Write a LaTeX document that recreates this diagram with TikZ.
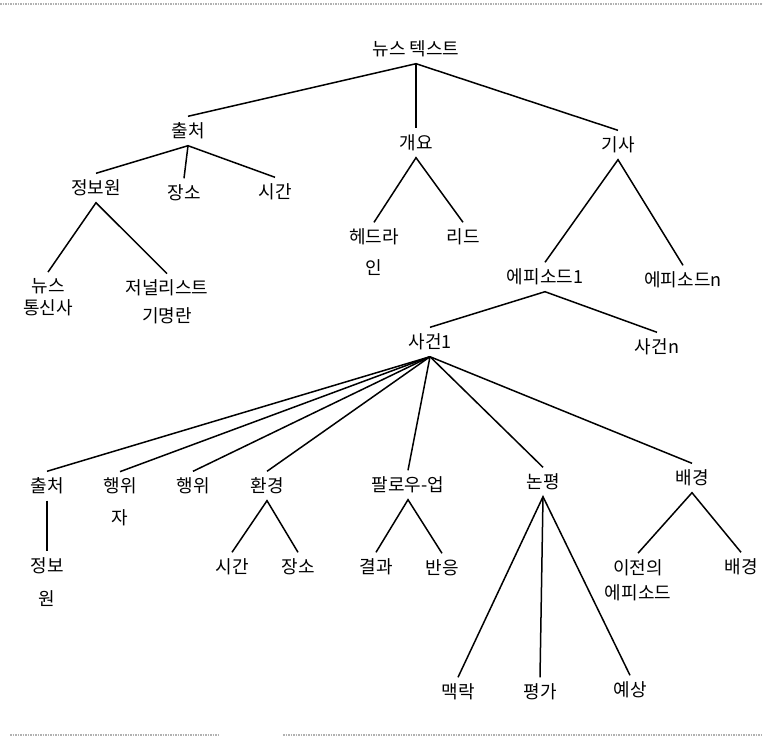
\documentclass[tikz,border=0pt]{standalone}
\usepackage{fontspec}
\setmainfont{Noto Sans CJK KR}
\begin{document}
\begin{tikzpicture}[x=1pt,y=-1pt]
 \tikzstyle{term}=[font=\fontsize{18}{22}\selectfont,inner xsep=1pt,inner ysep=6pt,align=center]
 \tikzstyle{one}=[term,text height=15pt,text depth=2pt]
 \tikzstyle{branch}=[line width=1.5pt]
 \tikzstyle{scan}=[gray!60,densely dotted,line width=1.5pt]
\useasboundingbox (0,0) rectangle (763,737);
\draw[scan] (0,4) -- (763,4);
\draw[scan] (10,735) -- (218,735);
\draw[scan] (283,735) -- (763,735);
\node[one] (root) at (416,49) {뉴스 텍스트};
\node[one] (src) at (188,131) {출처};
\node[one] (summ) at (416,143) {개요};
\node[one] (story) at (618,145) {기사};
\node[one] (info) at (96,188) {정보원};
\node[one] (place) at (184,193) {장소};
\node[one] (time) at (275,192) {시간};
\node[term] (agency) at (48,297) {뉴스\\통신사};
\node[term] (byline) at (167,302) {저널리스트\\[6pt]기명란};
\node[term] (head) at (374,252) {헤드라\\[9pt]인};
\node[one] (lead) at (463,237) {리드};
\node[one] (epi1) at (545,277) {에피소드1};
\node[one] (epin) at (683,280) {에피소드n};
\node[one] (ev1) at (430,342) {사건1};
\node[one] (evn) at (657,347) {사건n};
\node[one] (esrc) at (47,486) {출처};
\node[term] (actor) at (120,502) {행위\\[10pt]자};
\node[one] (act) at (193,486) {행위};
\node[one] (env) at (267,486) {환경};
\node[one] (follow) at (408,485) {팔로우-업};
\node[one] (comm) at (543,482) {논평};
\node[one] (bg) at (692,478) {배경};
\node[term] (sinfo) at (47,582) {정보\\[11pt]원};
\node[one] (etime) at (232,567) {시간};
\node[one] (eplace) at (298,567) {장소};
\node[one] (result) at (376,567) {결과};
\node[one] (react) at (442,568) {반응};
\node[one] (ctx) at (458,692) {맥락};
\node[one] (eval) at (540,692) {평가};
\node[one] (pred) at (630,690) {예상};
\node[term] (prev) at (638,580) {이전의\\[3pt]에피소드};
\node[one] (bgb) at (741,567) {배경};
\draw[branch] (src.north) -- (root.south) -- (story.north);
\draw[branch] (root.south) -- (summ.north);
\draw[branch] (info.north) -- (src.south) -- (time.north);
\draw[branch] (src.south) -- (place.north);
\draw[branch] (agency.north) -- (info.south) -- (byline.north);
\draw[branch] (head.north) -- (summ.south) -- (lead.north);
\draw[branch] (epi1.north) -- (story.south) -- (epin.north);
\draw[branch] (ev1.north) -- (epi1.south) -- (evn.north);
\foreach \k in {esrc,actor,act,env,follow,comm,bg}
  \draw[branch] (ev1.south) -- (\k.north);
\draw[branch] (esrc.south) -- (sinfo.north);
\draw[branch] (etime.north) -- (env.south) -- (eplace.north);
\draw[branch] (result.north) -- (follow.south) -- (react.north);
\draw[branch] (ctx.north) -- (comm.south) -- (pred.north);
\draw[branch] (comm.south) -- (eval.north);
\draw[branch] (prev.north) -- (bg.south) -- (bgb.north);
\end{tikzpicture}
\end{document}
